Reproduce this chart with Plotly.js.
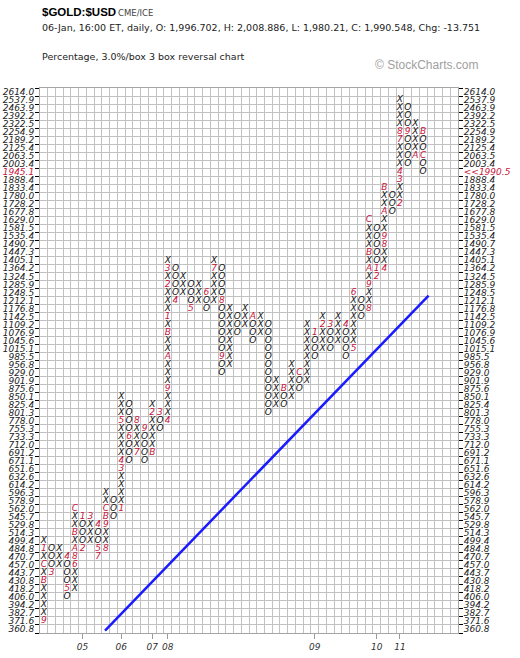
<!DOCTYPE html>
<html><head><meta charset="utf-8">
<script src="https://cdn.plot.ly/plotly-3.0.1.min.js"></script>
<style>html,body{margin:0;padding:0;background:#fff}#chart{width:520px;height:658px}</style>
</head><body><div id="chart"></div>
<script>
// Box levels (3% boxes), bottom to top — these are the axis tick labels
const levels = ["360.8","371.6","382.7","394.2","406.0","418.2","430.8","443.7","457.0","470.7",
  "484.8","499.4","514.3","529.8","545.7","562.0","578.9","596.3","614.2","632.6",
  "651.6","671.1","691.2","712.0","733.3","755.3","778.0","801.3","825.4","850.1",
  "875.6","901.9","929.0","956.8","985.5","1015.1","1045.6","1076.9","1109.2","1142.5",
  "1176.8","1212.1","1248.5","1285.9","1324.5","1364.2","1405.1","1447.3","1490.7","1535.4",
  "1581.5","1629.0","1677.8","1728.2","1780.0","1833.4","1888.4","1945.1","2003.4","2063.5",
  "2125.4","2189.2","2254.9","2322.5","2392.2","2463.9","2537.9","2614.0"];

// Point & figure columns
const colType = ["X","O","X","O","X","O","X","O","X","O","X","O","X","O","X","O","X","O","X","O",
  "X","O","X","O","X","O","X","O","X","O","X","O","X","O","X","O","X","O","X","O",
  "X","O","X","O","X","O","X","O","X","O"];
const colLow = ["371.6","443.7","457.0","406.0","418.2","484.8","499.4","470.7","484.8","545.7",
  "562.0","671.1","691.2","671.1","691.2","755.3","778.0","1212.1","1248.5","1176.8",
  "1212.1","1176.8","1212.1","929.0","956.8","1076.9","1109.2","1045.6","1076.9","801.3",
  "825.4","825.4","850.1","875.6","901.9","985.5","1015.1","1015.1","1045.6","985.5",
  "1015.1","1142.5","1176.8","1324.5","1364.2","1677.8","1728.2","2003.4","2063.5","1945.1"];
const colHigh = ["499.4","484.8","484.8","470.7","562.0","545.7","545.7","529.8","596.3","578.9",
  "850.1","825.4","778.0","755.3","825.4","801.3","1405.1","1364.2","1324.5","1285.9",
  "1285.9","1248.5","1405.1","1364.2","1176.8","1142.5","1176.8","1142.5","1142.5","1109.2",
  "901.9","875.6","956.8","929.0","1109.2","1076.9","1142.5","1109.2","1142.5","1109.2",
  "1248.5","1212.1","1629.0","1581.5","1833.4","1780.0","2537.9","2463.9","2322.5","2254.9"];

// Month markers (1-9, A=Oct, B=Nov, C=Dec)
const monthCol = [0,0,0,0, 1, 3,3, 4,4,4,4,4, 5,5, 6, 7,7,7, 8,8,8,8,
  10,10,10,10, 11, 12,12, 13, 14,14, 15, 16,16,16,16,16,16,16, 17, 19, 21, 22, 23,23, 27,
  31, 33, 35, 36, 37, 39, 40,40, 42,42,42,42,42, 43,43, 44,44,44,44,44, 46,46,46,46,46, 47, 48, 49,49];
const monthPrice = ["371.6","430.8","457.0","484.8", "443.7", "470.7","418.2",
  "457.0","470.7","484.8","514.3","562.0", "545.7","484.8", "545.7", "529.8","484.8","470.7",
  "484.8","529.8","545.7","562.0", "562.0","651.6","671.1","778.0", "733.3", "691.2","778.0",
  "755.3", "691.2","801.3", "801.3", "778.0","875.6","985.5","1076.9","1142.5","1285.9","1364.2",
  "1212.1", "1176.8", "1248.5", "1364.2", "1212.1","985.5", "1142.5",
  "875.6", "929.0", "1076.9", "1109.2", "1109.2", "1109.2", "1015.1","1248.5",
  "1176.8","1285.9","1364.2","1447.3","1629.0", "1364.2","1324.5",
  "1364.2","1490.7","1535.4","1677.8","1833.4", "1728.2","1888.4","1945.1","2189.2","2254.9",
  "2254.9", "2063.5", "2254.9","2063.5"];
const monthText = ["9","B","C","1", "3", "4","5", "6","8","A","B","C", "1","2", "3", "4","5","7",
  "8","9","B","C", "1","3","4","5", "6", "7","8", "9", "B","2", "3", "4","9","A","B","1","2","3",
  "4", "5", "6", "7", "8","9", "A", "B", "C", "1", "2", "3", "4", "5","6",
  "8","9","A","B","C", "1","2", "4","8","9","A","B", "2","3","4","7","8", "9", "A", "B","C"];

// Year labels along the bottom
const yearCols = [5,10,14,16,35,43,46];
const yearText = ["05","06","07","08","09","10","11"];

// Latest close and the box it sits in
const lastClose = "1990.5";
const lastBox = "1945.1";

// 45-degree bullish support line (column, box index)
const trendCol = [7.9, 49.7];
const trendBox = [-0.2, 41.6];

const nCols = 54;
const RED = "#c8143c";
const idx = p => levels.indexOf(p);

const markMap = {};
monthCol.forEach((c, i) => { markMap[c + "|" + monthPrice[i]] = monthText[i]; });

const bx = [], by = [], bt = [], mx = [], my = [], mt = [];
colType.forEach((t, c) => {
  const lo = idx(colLow[c]), hi = idx(colHigh[c]);
  for (let k = lo; k <= hi; k++) {
    const m = markMap[c + "|" + levels[k]];
    if (m) { mx.push(c); my.push(k); mt.push(m); }
    else { bx.push(c); by.push(k); bt.push(t); }
  }
});

const allIdx = levels.map((_, i) => i);
const leftText = levels.map(l => l === lastBox ? '<span style="color:' + RED + '">' + l + '</span>' : l);
const rightText = levels.map(l => l === lastBox ? '<span style="color:' + RED + '">&lt;&lt;' + lastClose + '</span>' : l);

const tickFont = {family: "DejaVu Sans", size: 9, color: "#222", style: "italic"};
const markFont = {family: "DejaVu Sans", size: 9, style: "italic"};

const traces = [
  {x: trendCol, y: trendBox, mode: "lines", line: {color: "#1a1aff", width: 2.5}, hoverinfo: "skip"},
  {x: bx, y: by, text: bt, mode: "text", textposition: "middle center",
   textfont: Object.assign({color: "#111"}, markFont), hoverinfo: "skip"},
  {x: mx, y: my, text: mt, mode: "text", textposition: "middle center",
   textfont: Object.assign({color: RED}, markFont), hoverinfo: "skip"},
  {x: [0], y: [0], xaxis: "x2", yaxis: "y2", mode: "markers", marker: {opacity: 0}, hoverinfo: "skip"},
  {x: [0], y: [0], xaxis: "x2", yaxis: "y3", mode: "markers", marker: {opacity: 0}, hoverinfo: "skip"}
];

const W = 520, H = 658, L = 40, R = 62, T = 88, B = 25;
const pw = W - L - R, ph = H - T - B;
const px = v => (v - L) / pw;
const py = v => (H - B - v) / ph;

const xr = [-0.5, nCols - 0.5], yr = [-0.5, levels.length - 0.5];
const gridCol = "#c2c2c2", frameCol = "#a6a6a6";

const layout = {
  width: W, height: H, margin: {l: L, r: R, t: T, b: B},
  paper_bgcolor: "#fff", plot_bgcolor: "#fff", showlegend: false,
  xaxis: {range: xr, tickmode: "linear", tick0: 0.5, dtick: 1, showgrid: true, gridcolor: gridCol, gridwidth: 1,
    showticklabels: false, ticks: "", zeroline: false, showline: true, linecolor: frameCol, mirror: true, fixedrange: true},
  yaxis: {range: yr, tickmode: "linear", tick0: -0.5, dtick: 1, showgrid: true, gridcolor: gridCol, gridwidth: 1,
    showticklabels: false, ticks: "outside", ticklen: 4, tickcolor: "#000", tickwidth: 1,
    zeroline: false, showline: true, linecolor: frameCol, mirror: "ticks", fixedrange: true},
  xaxis2: {overlaying: "x", anchor: "y", side: "bottom", range: xr, tickmode: "array", tickvals: yearCols, ticktext: yearText,
    ticks: "outside", ticklen: 5, tickcolor: "#999", showgrid: false, zeroline: false, showline: false,
    tickfont: {family: "DejaVu Sans", size: 9, color: "#333", style: "italic"}},
  yaxis2: {overlaying: "y", anchor: "x", side: "left", range: yr, tickmode: "array", tickvals: allIdx, ticktext: leftText,
    ticks: "outside", ticklen: 3, tickcolor: "rgba(0,0,0,0)", showgrid: false, zeroline: false, showline: false, tickfont: tickFont},
  yaxis3: {overlaying: "y", anchor: "x", side: "right", range: yr, tickmode: "array", tickvals: allIdx, ticktext: rightText,
    ticks: "outside", ticklen: 3, tickcolor: "rgba(0,0,0,0)", showgrid: false, zeroline: false, showline: false, tickfont: tickFont},
  annotations: [
    {xref: "paper", yref: "paper", x: px(40), y: py(12), xanchor: "left", yanchor: "middle", showarrow: false,
     text: "$GOLD:$USD", font: {family: "Liberation Sans", size: 11.5, weight: "bold", color: "#000"}},
    {xref: "paper", yref: "paper", x: px(116), y: py(13), xanchor: "left", yanchor: "middle", showarrow: false,
     text: "CME/ICE", font: {family: "DejaVu Sans", size: 8.5, color: "#444"}},
    {xref: "paper", yref: "paper", x: px(40), y: py(27), xanchor: "left", yanchor: "middle", showarrow: false,
     text: "06-Jan, 16:00 ET, daily, O: 1,996.702, H: 2,008.886, L: 1,980.21, C: 1,990.548, Chg: -13.751",
     font: {family: "DejaVu Sans", size: 9.5, color: "#222"}},
    {xref: "paper", yref: "paper", x: px(40), y: py(57), xanchor: "left", yanchor: "middle", showarrow: false,
     text: "Percentage, 3.0%/box 3 box reversal chart", font: {family: "DejaVu Sans", size: 9.5, color: "#222"}},
    {xref: "paper", yref: "paper", x: px(481), y: py(65), xanchor: "right", yanchor: "middle", showarrow: false,
     text: "© StockCharts.com", font: {family: "Liberation Sans", size: 12, color: "#a0a0a0"}}
  ]
};

Plotly.newPlot("chart", traces, layout, {displayModeBar: false, staticPlot: true});
</script></body></html>
